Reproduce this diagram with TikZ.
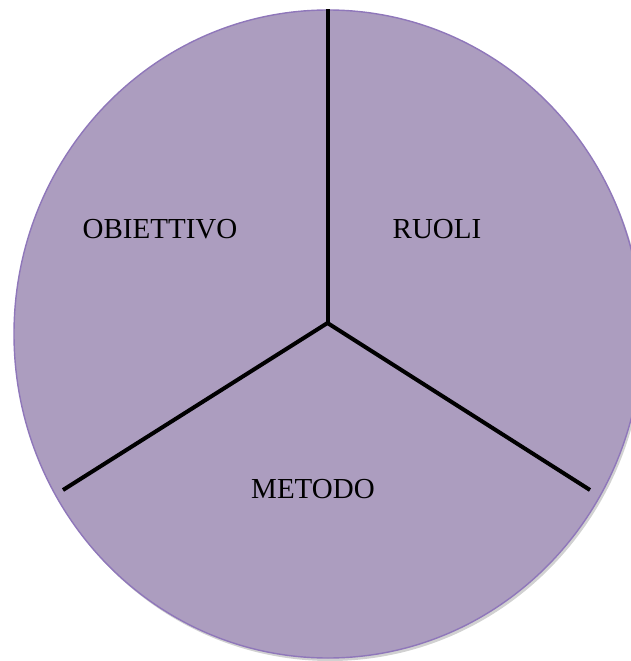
\documentclass[tikz,border=0pt]{standalone}
\usepackage{fontspec}
\setmainfont{Liberation Serif}
\definecolor{pfill}{HTML}{AC9DBF}
\definecolor{pedge}{HTML}{8F77BA}
\begin{document}
\begin{tikzpicture}[x=1pt,y=-1pt,
  spoke/.style={line width=4pt,black},
  lbl/.style={font=\fontsize{29}{32}\selectfont,text=black}]
\useasboundingbox (0,0) rectangle (631,661);
\fill[black!18] (330,337) ellipse [x radius=314, y radius=324];
\filldraw[fill=pfill,draw=pedge,line width=1.4pt] (328,334) ellipse [x radius=314, y radius=324];
\coordinate (c) at (327.5,323);
\coordinate (t) at (327.5,9);
\coordinate (l) at (63,490);
\coordinate (r) at (590,490);
\draw[spoke] (c) -- (t);
\draw[spoke] (c) -- (l);
\draw[spoke] (c) -- (r);
\node[lbl] (obj) at (160,229) {OBIETTIVO};
\node[lbl] (ruo) at (437,229) {RUOLI};
\node[lbl] (met) at (313,489) {METODO};
\end{tikzpicture}
\end{document}
